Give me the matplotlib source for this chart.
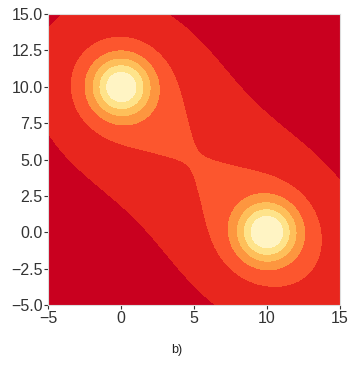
import numpy as np
import matplotlib
matplotlib.use("Agg")
import matplotlib.pyplot as plt

# ---- data ----
# two clusters: centres, core widths/heights, halo widths/heights
centers_x = [0.0, 10.0]
centers_y = [10.0, 0.0]
core_sigma = [1.4, 1.4]
core_amp = [4.75, 4.85]
halo_sigma = [3.6, 3.6]
halo_amp = [0.65, 0.65]
# broad diagonal band joining the clusters (u along the band, v across it)
band_amp = 1.826
band_u0 = 0.5
band_v0 = 0.0
band_sigma_u = [15.0, 17.0]   # towards upper-left, towards lower-right
band_sigma_v = 5.0
levels = [-0.5, 1, 2, 3, 4, 5, 6, 8]
x_ticks = [-5, 0, 5, 10, 15]
y_ticks = [-5.0, -2.5, 0.0, 2.5, 5.0, 7.5, 10.0, 12.5, 15.0]
band_colors = ["#c9001f", "#e8261e", "#fc562e", "#fd963f", "#febf5a", "#fee38a", "#fff4c4"]
panel_label = "b)"

# ---- field ----
xs = np.linspace(-5, 15, 401)
ys = np.linspace(-5, 15, 401)
X, Y = np.meshgrid(xs, ys)
Z = np.zeros_like(X)
for cx, cy, s, a, hs, ha in zip(centers_x, centers_y, core_sigma, core_amp, halo_sigma, halo_amp):
    R2 = (X - cx) ** 2 + (Y - cy) ** 2
    Z += a * np.exp(-R2 / (2 * s ** 2)) + ha * np.exp(-R2 / (2 * hs ** 2))
U = (X - Y) / np.sqrt(2)
V = (X + Y - 10) / np.sqrt(2)
su = np.where(U < band_u0, band_sigma_u[0], band_sigma_u[1])
Z += band_amp * np.exp(-((U - band_u0) / su) ** 4
                       - (V - band_v0) ** 2 / (2 * band_sigma_v ** 2))

plt.rcParams['font.family'] = ['Liberation Sans', 'DejaVu Sans']
fig = plt.figure(figsize=(3.56, 3.66), dpi=100)
ax = fig.add_axes([0.135, 0.1667, 0.82, 0.795])
ax.contourf(X, Y, Z, levels=levels, colors=band_colors)
ax.set_xlim(-5, 15)
ax.set_ylim(-5, 15)
ax.set_xticks(x_ticks)
ax.set_yticks(y_ticks)
ax.set_yticklabels([f"{t:.1f}".replace("-", "\u2212") for t in y_ticks])
ax.set_xticklabels([f"{t}".replace("-", "\u2212") for t in x_ticks])
ax.tick_params(labelsize=11.5, colors="#333333", length=3, width=0.8, pad=1)
for s in ax.spines.values():
    s.set_color("#dddddd")
    s.set_linewidth(0.8)
fig.text(0.496, 0.044, panel_label, ha="center", va="center", fontsize=9, color="#222222")
fig.savefig("out.png", dpi=100)
